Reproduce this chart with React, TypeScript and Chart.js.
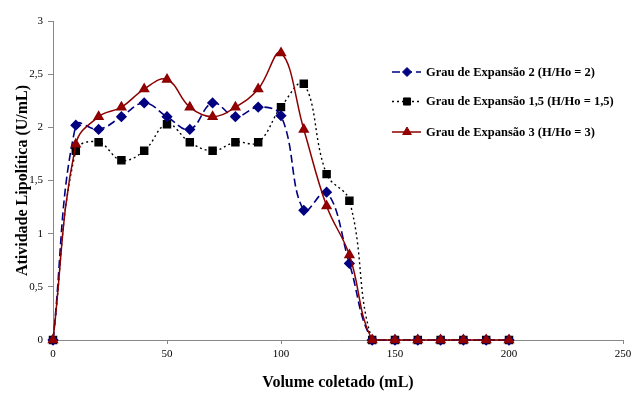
import React, { useEffect, useRef } from "react";
import { Chart, registerables } from "chart.js";
import { drawPoint } from "chart.js/helpers";

Chart.register(...registerables);

const xValues = [0, 10, 20, 30, 40, 50, 60, 70, 80, 90, 100, 110, 120, 130, 140, 150, 160, 170, 180, 190, 200];
const serie2 = [0, 2.02, 1.98, 2.1, 2.23, 2.1, 1.98, 2.23, 2.1, 2.19, 2.11, 1.22, 1.39, 0.72, 0, 0, 0, 0, 0, 0, 0];
const serie15 = [0, 1.78, 1.86, 1.69, 1.78, 2.03, 1.86, 1.78, 1.86, 1.86, 2.19, 2.41, 1.56, 1.31, 0, 0, 0, 0, 0, 0, 0];
const serie3 = [0, 1.84, 2.1, 2.19, 2.36, 2.45, 2.19, 2.1, 2.19, 2.36, 2.7, 1.98, 1.26, 0.8, 0, 0, 0, 0, 0, 0, 0];
const seriesLabels = [
  "Grau de Expansão 2 (H/Ho = 2)",
  "Grau de Expansão 1,5 (H/Ho = 1,5)",
  "Grau de Expansão 3 (H/Ho = 3)",
];
const xTitle = "Volume coletado (mL)";
const yTitle = "Atividade Lipolítica (U/mL)";

const FONT = '"Liberation Serif", "Times New Roman", serif';

const legendPlugin = {
  id: "customLegend",
  afterDraw(chart: any) {
    const ctx = chart.ctx;
    const rows = [72, 101.5, 132];
    chart.data.datasets.forEach((ds: any, i: number) => {
      const y = rows[i];
      ctx.save();
      ctx.strokeStyle = ds.borderColor;
      ctx.lineWidth = ds.borderWidth;
      ctx.setLineDash(ds.borderDash || []);
      ctx.beginPath();
      ctx.moveTo(392, y);
      ctx.lineTo(421, y);
      ctx.stroke();
      ctx.setLineDash([]);
      ctx.fillStyle = ds.pointBackgroundColor;
      ctx.strokeStyle = ds.pointBorderColor;
      ctx.lineWidth = 1;
      drawPoint(ctx, { pointStyle: ds.pointStyle, radius: ds.pointRadius, rotation: 0, borderWidth: 1 } as any, 407, y);
      ctx.fillStyle = "#000";
      ctx.font = `bold 12.5px ${FONT}`;
      ctx.textBaseline = "middle";
      ctx.textAlign = "left";
      ctx.fillText(ds.label, 426, y + 0.5);
      ctx.restore();
    });
  },
};

export default function App() {
  const ref = useRef<HTMLCanvasElement>(null);
  useEffect(() => {
    const mk = (vals: number[]) => xValues.map((x, i) => ({ x, y: vals[i] }));
    const chart = new Chart(ref.current!, {
      type: "line",
      data: {
        datasets: [
          {
            label: seriesLabels[0],
            data: mk(serie2),
            borderColor: "#000080",
            backgroundColor: "#000080",
            pointBackgroundColor: "#000080",
            pointBorderColor: "#000080",
            borderWidth: 1.6,
            borderDash: [8, 4],
            pointStyle: "rectRot",
            pointRadius: 4.5,
            tension: 0.4,
            order: 1,
            clip: false,
          },
          {
            label: seriesLabels[1],
            data: mk(serie15),
            borderColor: "#000000",
            backgroundColor: "#000000",
            pointBackgroundColor: "#000000",
            pointBorderColor: "#000000",
            borderWidth: 1.4,
            borderDash: [2, 3],
            pointStyle: "rect",
            pointRadius: 5,
            tension: 0.4,
            order: 2,
            clip: false,
          },
          {
            label: seriesLabels[2],
            data: mk(serie3),
            borderColor: "#8b0000",
            backgroundColor: "#8b0000",
            pointBackgroundColor: "#990000",
            pointBorderColor: "#8b0000",
            borderWidth: 1.5,
            pointStyle: "triangle",
            pointRadius: 5,
            tension: 0.4,
            order: 0,
            clip: false,
          },
        ] as any,
      },
      options: {
        animation: false,
        responsive: false,
        maintainAspectRatio: false,
        layout: { padding: { left: 0, right: 17, top: 21, bottom: 0 } },
        plugins: { legend: { display: false }, tooltip: { enabled: false } },
        scales: {
          x: {
            type: "linear",
            min: 0,
            max: 250,
            ticks: { stepSize: 50, color: "#000", font: { family: FONT, size: 11 }, padding: 4, maxRotation: 0 },
            grid: { drawOnChartArea: false, drawTicks: true, tickLength: 4, color: "#888" },
            border: { color: "#888", width: 1 },
            title: { display: true, text: xTitle, color: "#000", font: { family: FONT, size: 16, weight: "bold" }, padding: { top: 4, bottom: 3.5 } },
            afterFit: (s: any) => { s.height = 56; },
          },
          y: {
            min: 0,
            max: 3,
            ticks: {
              stepSize: 0.5,
              color: "#000",
              font: { family: FONT, size: 11 },
              padding: 5,
              callback: (v: any) => String(v).replace(".", ","),
            },
            grid: { drawOnChartArea: false, drawTicks: true, tickLength: 5, color: "#888" },
            border: { color: "#888", width: 1 },
            title: { display: true, text: yTitle, color: "#000", font: { family: FONT, size: 16, weight: "bold" }, padding: { top: 13.5, bottom: 0 } },
            afterFit: (s: any) => { s.width = 53; },
          },
        },
      } as any,
      plugins: [legendPlugin],
    });
    return () => chart.destroy();
  }, []);
  return (
    <div style={{ position: "fixed", left: 0, top: 0, width: 640, height: 396, background: "#fff" }}>
      <canvas ref={ref} width={640} height={396} style={{ width: 640, height: 396, display: "block" }} />
    </div>
  );
}
